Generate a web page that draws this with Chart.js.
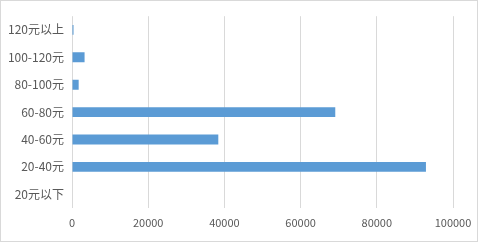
<!DOCTYPE html>
<html>
<head>
<meta charset="utf-8">
<script src="https://cdn.jsdelivr.net/npm/chart.js@4"></script>
<style>
  html, body { margin: 0; padding: 0; background: #fff; }
  #box { width: 478px; height: 242px; box-sizing: border-box; border: 1px solid #d9d9d9; background: #fff; }
  #chart { display: block; }
</style>
</head>
<body>
<div id="box"><canvas id="chart" width="476" height="240"></canvas></div>
<script>
// categories top to bottom, as in the picture
const categories = ['120元以上', '100-120元', '80-100元', '60-80元', '40-60元', '20-40元', '20元以下'];
const counts = [400, 3300, 1750, 69100, 38400, 92900, 0];
const xTicks = [0, 20000, 40000, 60000, 80000, 100000];

const gridColor = '#d9d9d9';
const textColor = '#595959';
const font = "'Noto Sans CJK SC', 'Noto Sans', sans-serif";

document.addEventListener('DOMContentLoaded', () => {
    const ctx = document.getElementById('chart').getContext('2d');
    new Chart(ctx, {
        type: 'bar',
        data: {
            labels: categories,
            datasets: [{
                data: counts,
                backgroundColor: '#5b9bd5',
                borderWidth: 0,
                barPercentage: 0.72,
                categoryPercentage: 0.5
            }]
        },
        options: {
            indexAxis: 'y',
            responsive: false,
            animation: false,
            layout: { padding: { top: 15, right: 24, bottom: 6, left: 0 } },
            plugins: {
                legend: { display: false },
                tooltip: { enabled: false }
            },
            scales: {
                x: {
                    min: xTicks[0],
                    max: xTicks[xTicks.length - 1],
                    afterBuildTicks: (axis) => { axis.ticks = xTicks.map(v => ({ value: v })); },
                    afterFit: (axis) => {
                        axis.height = 27;
                        axis.paddingLeft = 0;
                        axis.paddingRight = 0;
                    },
                    grid: { color: gridColor, drawTicks: false },
                    border: { display: false },
                    ticks: {
                        color: textColor,
                        padding: 8,
                        font: { family: font, size: 11 },
                        callback: (v) => String(v)
                    }
                },
                y: {
                    afterFit: (axis) => { axis.width = 71; },
                    grid: { display: false, drawTicks: false },
                    border: { display: false },
                    ticks: { color: textColor, padding: 8, font: { family: font, size: 12 } }
                }
            }
        }
    });
});
</script>
</body>
</html>
